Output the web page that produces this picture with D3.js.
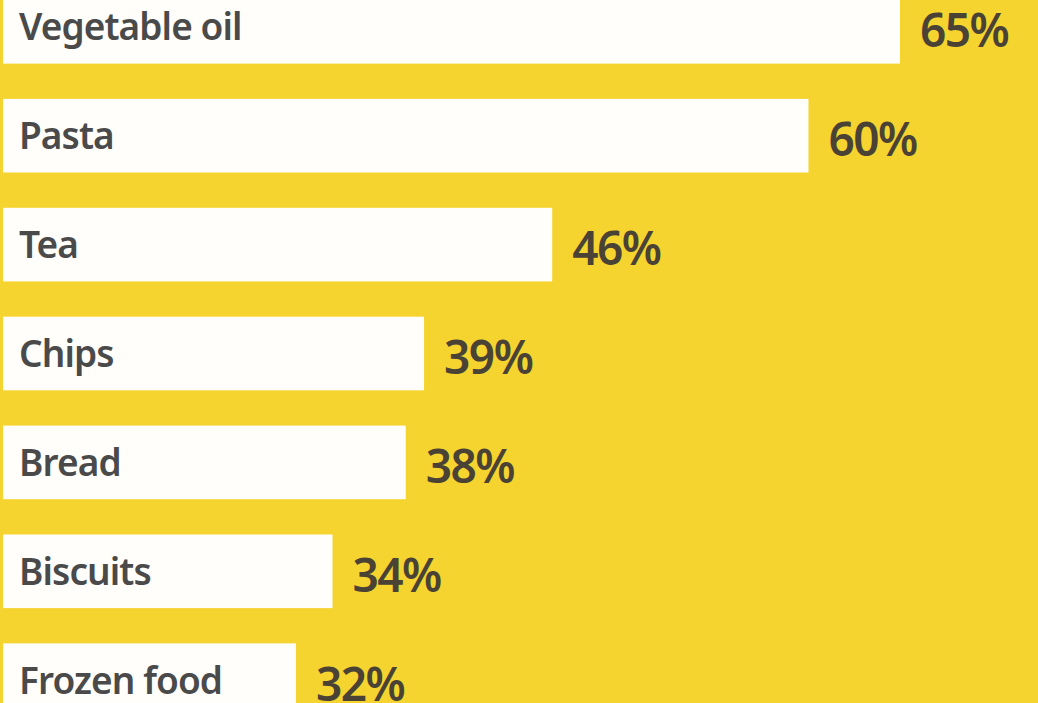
<!DOCTYPE html>
<html>
<head>
<meta charset="utf-8">
<script src="https://cdn.jsdelivr.net/npm/d3@7"></script>
<style>
  html, body { margin: 0; padding: 0; background: #f5d42f; overflow: hidden; }
  .cat { font-family: "Noto Sans", sans-serif; font-weight: 600; fill: #4a4a4a; }
  .val { font-family: "Noto Sans", sans-serif; font-weight: 600; fill: #4a4234; }
</style>
</head>
<body>
<div class="container"></div>
<script>
// data
var categories = ["Vegetable oil", "Pasta", "Tea", "Chips", "Bread", "Biscuits", "Frozen food"]
var values = [65, 60, 46, 39, 38, 34, 32]
var valueLabels = ["65%", "60%", "46%", "39%", "38%", "34%", "32%"]

var width = 1038,
    height = 703;

var svg = d3.select(".container").append("svg")
    .attr("width", width)
    .attr("height", height)
    .style("display", "block");

svg.append("rect")
    .attr("width", width)
    .attr("height", height)
    .attr("fill", "#f5d42f");

// bars in the source don't start from zero, so domain is offset
var x = d3.scaleLinear()
    .domain([16, 65])
    .range([3, 900]);

var y = d3.scaleBand()
    .domain(categories)
    .range([-10, 717])
    .paddingInner(0.324)
    .paddingOuter(0);

var rows = svg.selectAll(".row")
    .data(categories)
    .enter().append("g")
    .attr("class", "row")
    .attr("transform", function(d) { return "translate(0," + y(d) + ")" });

rows.append("rect")
    .attr("x", x(16))
    .attr("height", y.bandwidth())
    .attr("width", function(d, i) { return x(values[i]) - x(16) })
    .attr("fill", "#fffefb");

rows.append("text")
    .attr("class", "cat")
    .attr("x", 19)
    .attr("y", y.bandwidth() / 2)
    .attr("dy", "0.36em")
    .style("font-size", "37px")
    .style("letter-spacing", "-0.9px")
    .text(function(d) { return d });

rows.append("text")
    .attr("class", "val")
    .attr("x", function(d, i) { return x(values[i]) + 20 })
    .attr("y", y.bandwidth() / 2 + 4)
    .attr("dy", "0.36em")
    .style("font-size", "46px")
    .style("letter-spacing", "-1.5px")
    .text(function(d, i) { return valueLabels[i] });
</script>
</body>
</html>
